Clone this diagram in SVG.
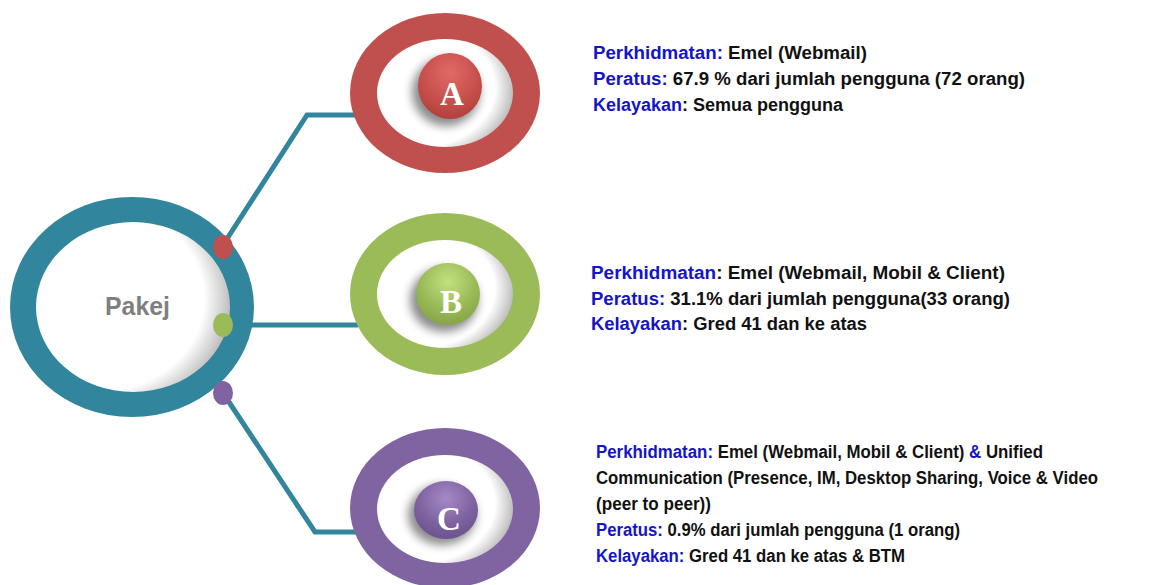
<svg xmlns="http://www.w3.org/2000/svg" width="1160" height="585" viewBox="0 0 1160 585">
<style>
.conn{fill:none;stroke:#31859c;stroke-width:5;stroke-linejoin:miter}
.txt{font-family:"Liberation Sans",Arial,sans-serif;font-weight:bold;font-size:17.5px;fill:#111}
.k{fill:#1414c8}
.letter{font-family:"Liberation Serif","DejaVu Serif",serif;font-weight:bold;font-size:33px;fill:#fff;text-anchor:middle}
.pakej{font-family:"Liberation Sans",Arial,sans-serif;font-weight:bold;font-size:26px;fill:#7f7f7f}
</style>
<defs>
<radialGradient id="hole" cx="0.32" cy="0.45" r="0.78">
<stop offset="0" stop-color="#ffffff"/>
<stop offset="0.7" stop-color="#ffffff"/>
<stop offset="0.85" stop-color="#c8c8c8"/>
<stop offset="1" stop-color="#858585"/>
</radialGradient>
<radialGradient id="btnA" cx="0.5" cy="0.3" r="0.7">
<stop offset="0" stop-color="#e06a66"/>
<stop offset="0.6" stop-color="#c9514d"/>
<stop offset="1" stop-color="#b2403c"/>
</radialGradient>
<radialGradient id="btnB" cx="0.5" cy="0.3" r="0.7">
<stop offset="0" stop-color="#c2e07e"/>
<stop offset="0.6" stop-color="#9bbb59"/>
<stop offset="1" stop-color="#86a646"/>
</radialGradient>
<radialGradient id="btnC" cx="0.5" cy="0.3" r="0.7">
<stop offset="0" stop-color="#a58ac8"/>
<stop offset="0.6" stop-color="#8064a2"/>
<stop offset="1" stop-color="#6c5290"/>
</radialGradient>
<filter id="sh" x="-40%" y="-40%" width="180%" height="180%">
<feGaussianBlur stdDeviation="5"/>
</filter>
</defs>
<rect width="1160" height="585" fill="#ffffff"/>

<g id="connectors">
<path class="conn" d="M223,245 L307,115 L358,115"/>
<path class="conn" d="M230,325 L358,325"/>
<path class="conn" d="M223,393 L315,532 L358,532"/>
</g>

<g id="pakej">
<ellipse cx="132" cy="307" rx="122" ry="110" fill="#31859c"/>
<ellipse cx="133" cy="307" rx="97" ry="85" fill="url(#hole)"/>
<text class="pakej" x="105" y="315" textLength="65" lengthAdjust="spacingAndGlyphs">Pakej</text>
<ellipse cx="223" cy="247" rx="10" ry="12" fill="#c0504d"/>
<ellipse cx="223" cy="325" rx="10" ry="12" fill="#9bbb59"/>
<ellipse cx="223" cy="393" rx="10" ry="12" fill="#8064a2"/>
</g>

<g id="nodeA">
<ellipse cx="445" cy="93" rx="95" ry="80" fill="#c0504d"/>
<ellipse cx="445" cy="93" rx="68" ry="54" fill="url(#hole)"/>
<ellipse cx="446" cy="92" rx="34" ry="34" fill="#000" opacity="0.45" filter="url(#sh)"/>
<ellipse cx="450" cy="86" rx="32" ry="33" fill="url(#btnA)"/>
<text class="letter" x="452" y="105">A</text>
</g>

<g id="nodeB">
<ellipse cx="445" cy="294" rx="95" ry="81" fill="#9bbb59"/>
<ellipse cx="445" cy="294" rx="68" ry="54" fill="url(#hole)"/>
<ellipse cx="444" cy="300" rx="34" ry="32" fill="#000" opacity="0.45" filter="url(#sh)"/>
<ellipse cx="448" cy="294" rx="32" ry="31" fill="url(#btnB)"/>
<text class="letter" x="451" y="313">B</text>
</g>

<g id="nodeC">
<ellipse cx="445" cy="508" rx="95" ry="80" fill="#8064a2"/>
<ellipse cx="445" cy="509" rx="68" ry="54" fill="url(#hole)"/>
<ellipse cx="442" cy="515" rx="34" ry="30" fill="#000" opacity="0.45" filter="url(#sh)"/>
<ellipse cx="446" cy="510" rx="32" ry="29" fill="url(#btnC)"/>
<text class="letter" x="449" y="530">C</text>
</g>

<g id="textA">
<text class="txt" x="593" y="59" textLength="274" lengthAdjust="spacingAndGlyphs"><tspan class="k">Perkhidmatan:</tspan> Emel (Webmail)</text>
<text class="txt" x="593" y="85" textLength="432" lengthAdjust="spacingAndGlyphs"><tspan class="k">Peratus:</tspan> 67.9 %  dari jumlah pengguna (72 orang)</text>
<text class="txt" x="593" y="111" textLength="250" lengthAdjust="spacingAndGlyphs"><tspan class="k">Kelayakan</tspan>: Semua pengguna</text>
</g>

<g id="textB">
<text class="txt" x="591" y="279" textLength="414" lengthAdjust="spacingAndGlyphs"><tspan class="k">Perkhidmatan</tspan>: Emel (Webmail, Mobil &amp; Client)</text>
<text class="txt" x="591" y="305" textLength="419" lengthAdjust="spacingAndGlyphs"><tspan class="k">Peratus:</tspan> 31.1% dari jumlah pengguna(33 orang)</text>
<text class="txt" x="591" y="330" textLength="276" lengthAdjust="spacingAndGlyphs"><tspan class="k">Kelayakan</tspan>: Gred 41 dan ke atas</text>
</g>

<g id="textC">
<text class="txt" x="596" y="458" textLength="447" lengthAdjust="spacingAndGlyphs"><tspan class="k">Perkhidmatan:</tspan> Emel (Webmail, Mobil &amp; Client) <tspan class="k">&amp;</tspan> Unified</text>
<text class="txt" x="596" y="484" textLength="502" lengthAdjust="spacingAndGlyphs">Communication (Presence, IM, Desktop Sharing, Voice &amp; Video</text>
<text class="txt" x="596" y="510" textLength="115" lengthAdjust="spacingAndGlyphs">(peer to peer))</text>
<text class="txt" x="596" y="536" textLength="364" lengthAdjust="spacingAndGlyphs"><tspan class="k">Peratus:</tspan> 0.9% dari jumlah pengguna (1 orang)</text>
<text class="txt" x="596" y="562" textLength="309" lengthAdjust="spacingAndGlyphs"><tspan class="k">Kelayakan:</tspan> Gred 41 dan ke atas &amp; BTM</text>
</g>
</svg>
